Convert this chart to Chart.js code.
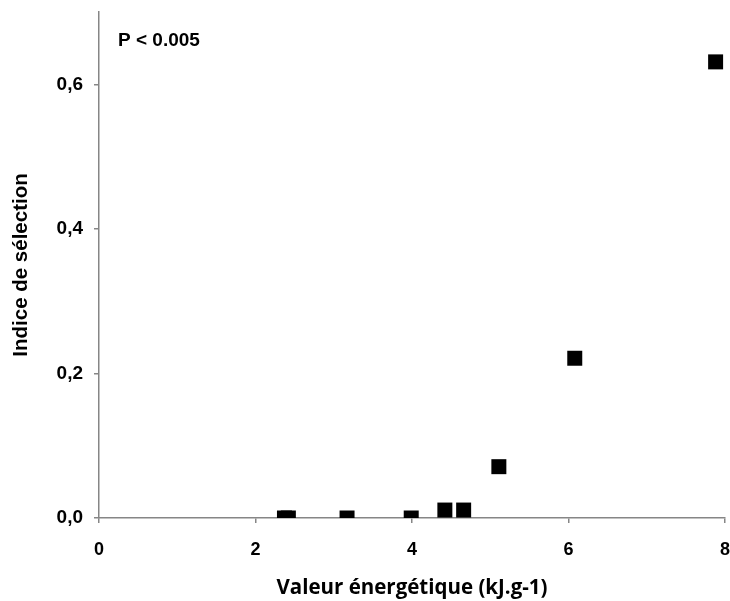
<!DOCTYPE html>
<html>
<head>
<meta charset="utf-8">
<script src="https://cdn.jsdelivr.net/npm/chart.js@4"></script>
<style>
  body { margin: 0; background: #fff; }
</style>
</head>
<body>
<canvas id="chart" width="730" height="601"></canvas>
<script>
// Energy value (kJ/g) and selection index of each prey
const energyValues = [2.37, 2.42, 3.17, 3.99, 4.42, 4.66, 5.11, 6.08, 7.88];
const selectionIndex = [0, 0, 0, 0, 0.011, 0.011, 0.071, 0.221, 0.631];

const xTicks = [0, 2, 4, 6, 8];
const yTicks = [0, 0.2, 0.4, 0.6];
const note = "P < 0.005";

const axisGrey = "#868686";

// writes the P value in the upper left corner of the plot
const notePlugin = {
  id: "note",
  afterDraw(chart) {
    const { ctx, chartArea } = chart;
    ctx.save();
    ctx.font = "bold 19px 'Liberation Sans'";
    ctx.fillStyle = "#000";
    ctx.textBaseline = "middle";
    ctx.fillText(note, chartArea.left + 19, chartArea.top + 29);
    ctx.restore();
  },
};

// no extra room for the end labels, the plot runs to the edges
function noPadding(axis) {
  axis.paddingLeft = 0;
  axis.paddingRight = 0;
  axis.paddingTop = 0;
  axis.paddingBottom = 0;
}

const points = energyValues.map((x, i) => ({ x: x, y: selectionIndex[i] }));

new Chart(document.getElementById("chart"), {
  type: "scatter",
  data: {
    datasets: [
      {
        data: points,
        pointStyle: "rect",
        pointRadius: 10.6,
        pointHoverRadius: 10.6,
        backgroundColor: "#000",
        borderColor: "#000",
        borderWidth: 0,
      },
    ],
  },
  options: {
    responsive: false,
    animation: false,
    layout: { autoPadding: false, padding: { top: 12, right: 5, left: 0, bottom: 0 } },
    plugins: {
      legend: { display: false },
      tooltip: { enabled: false },
    },
    scales: {
      x: {
        type: "linear",
        min: 0,
        max: 8,
        afterBuildTicks: (axis) => { axis.ticks = xTicks.map((v) => ({ value: v })); },
        afterFit: (axis) => { axis.height = 83; noPadding(axis); },
        border: { display: true, color: axisGrey, width: 1.5 },
        grid: { drawOnChartArea: false, drawTicks: true, tickLength: 5, color: axisGrey, lineWidth: 1.5 },
        ticks: {
          color: "#000",
          padding: 16,
          font: { family: "'Liberation Sans'", weight: "bold", size: 18 },
        },
        title: {
          display: true,
          text: "Valeur énergétique (kJ.g-1)",
          color: "#000",
          padding: { top: 0, bottom: 1 },
          font: { family: "'Open Sans'", weight: "bold", size: 20.5 },
        },
      },
      y: {
        type: "linear",
        min: 0,
        max: 0.7,
        afterBuildTicks: (axis) => { axis.ticks = yTicks.map((v) => ({ value: v })); },
        afterFit: (axis) => { axis.width = 99; noPadding(axis); },
        border: { display: true, color: axisGrey, width: 1.5 },
        grid: { drawOnChartArea: false, drawTicks: true, tickLength: 5, color: axisGrey, lineWidth: 1.5 },
        ticks: {
          color: "#000",
          padding: 11,
          font: { family: "'Liberation Sans'", weight: "bold", size: 19 },
          callback: (v) => v.toFixed(1).replace(".", ","),
        },
        title: {
          display: true,
          text: "Indice de sélection",
          color: "#000",
          padding: { top: 9, bottom: 0 },
          font: { family: "'Liberation Sans'", weight: "bold", size: 20.5 },
        },
      },
    },
  },
  plugins: [notePlugin],
});
</script>
</body>
</html>
